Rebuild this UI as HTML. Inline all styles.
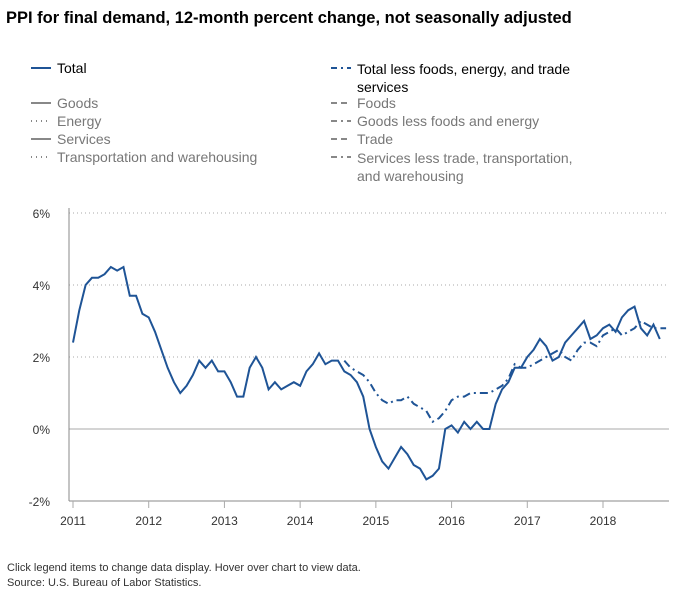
<!DOCTYPE html>
<html><head><meta charset="utf-8"><style>
body{margin:0;width:673px;height:606px;background:#fff;font-family:"Liberation Sans",sans-serif;overflow:hidden;position:relative}
.t{position:absolute;left:6px;top:9px;font-size:16.5px;font-weight:bold;color:#000}
.lg{position:absolute;font-size:14px;color:#777;white-space:nowrap}
.lg svg{position:absolute;left:-27px;top:5px}
.foot{position:absolute;left:7px;font-size:11px;color:#333}
</style></head><body>
<div class="t">PPI for final demand, 12-month percent change, not seasonally adjusted</div>
<div id="legend"></div>
<svg id="chart" width="673" height="606" style="position:absolute;left:0;top:0"></svg>
<div class="foot" style="top:562px">Click legend items to change data display. Hover over chart to view data.</div>
<div class="foot" style="top:577px">Source: U.S. Bureau of Labor Statistics.</div>
<script>
const total=[2.4,3.3,4.0,4.2,4.2,4.3,4.5,4.4,4.5,3.7,3.7,3.2,
3.1,2.7,2.2,1.7,1.3,1.0,1.2,1.5,1.9,1.7,1.9,1.6,
1.6,1.3,0.9,0.9,1.7,2.0,1.7,1.1,1.3,1.1,1.2,1.3,
1.2,1.6,1.8,2.1,1.8,1.9,1.9,1.6,1.5,1.3,0.9,0.0,
-0.5,-0.9,-1.1,-0.8,-0.5,-0.7,-1.0,-1.1,-1.4,-1.3,-1.1,0.0,
0.1,-0.1,0.2,0.0,0.2,0.0,0.0,0.7,1.1,1.3,1.7,1.7,
2.0,2.2,2.5,2.3,1.9,2.0,2.4,2.6,2.8,3.0,2.5,2.6,
2.8,2.9,2.7,3.1,3.3,3.4,2.8,2.6,2.9,2.5];
const coreStart=43;
const core=[1.9,1.7,1.6,1.5,1.3,1.0,0.8,0.7,0.8,0.8,0.9,0.7,0.6,0.5,0.2,0.3,0.5,0.8,0.9,0.9,1.0,1.0,1.0,1.0,1.1,1.2,1.4,1.8,1.7,1.7,1.8,1.9,2.0,2.1,2.2,2.0,1.9,2.2,2.4,2.4,2.3,2.6,2.7,2.8,2.6,2.7,2.8,3.0,2.9,2.8,2.8,2.8];
const yTicks=[6,4,2,0,-2];
const xYears=[2011,2012,2013,2014,2015,2016,2017,2018];
const legendLeft=["Total","Goods","Energy","Services","Transportation and warehousing"];
const legendRight=["Total less foods, energy, and trade services","Foods","Goods less foods and energy","Trade","Services less trade, transportation, and warehousing"];

const NS="http://www.w3.org/2000/svg";
const svg=document.getElementById('chart');
const x=m=>73+m*(530/84);
const y=v=>429-v*36;
function el(t,a){const e=document.createElementNS(NS,t);for(const k in a)e.setAttribute(k,a[k]);svg.appendChild(e);return e;}
yTicks.forEach(v=>{
 const g=el('line',{x1:69,x2:669,y1:y(v),y2:y(v),stroke:'#aaa','stroke-width':1,'stroke-dasharray':v===0?'':'1,3'});
 
 
 const t=el('text',{x:50,y:y(v)+5,'text-anchor':'end','font-size':12,fill:'#333'});
 t.textContent=v+'%';
 
 
});
const ax=el('line',{x1:69,x2:69,y1:208,y2:501,stroke:'#888'});


const bx=el('line',{x1:69,x2:669,y1:501,y2:501,stroke:'#888'});


xYears.forEach((yr,i)=>{
 const xx=x(i*12);
 const tk=el('line',{x1:xx,x2:xx,y1:501,y2:508,stroke:'#aaa'});
 
 
 const t=el('text',{x:xx,y:525,'text-anchor':'middle','font-size':12,fill:'#333'});
 t.textContent=yr;
 
 
});
const cp=el('path',{d:core.map((v,i)=>(i?'L':'M')+x(coreStart+i)+','+y(v)).join(''),fill:'none',stroke:'#1f5496','stroke-width':2,'stroke-dasharray':'8,4,2,4'});


const tp=el('path',{d:total.map((v,i)=>(i?'L':'M')+x(i)+','+y(v)).join(''),fill:'none',stroke:'#1f5496','stroke-width':2});



const lg=document.getElementById('legend');
const leftY=[60,95,113,131,149], rightY=[60,95,113,131,149];
const leftDash=['','','1,4','','1,4'], rightDash=['6,4,2,4','6,4','6,4,2,4','6,4','6,4,2,4'];
function addLeg(txt,lx,ty,dash,active,w){
 const d=document.createElement('div');
 d.className='lg';d.style.left=lx+'px';d.style.top=ty+'px';
 if(w){d.style.whiteSpace='normal';d.style.width=w+'px';d.style.lineHeight='18px';}
 if(active){d.style.color='#000';}
 d.innerHTML='<svg width="22" height="6"><line x1="1" x2="21" y1="3" y2="3" stroke="'+(active?'#1f5496':'#888')+'" stroke-width="2" stroke-dasharray="'+dash+'"/></svg>'+txt;
 
 
 lg.appendChild(d);
}
legendLeft.forEach((t,i)=>addLeg(t,57,leftY[i],leftDash[i],i===0,0));
legendRight.forEach((t,i)=>addLeg(t,357,rightY[i],rightDash[i],i===0,(i===0||i===4)?222:0));
</script>
</body></html>
